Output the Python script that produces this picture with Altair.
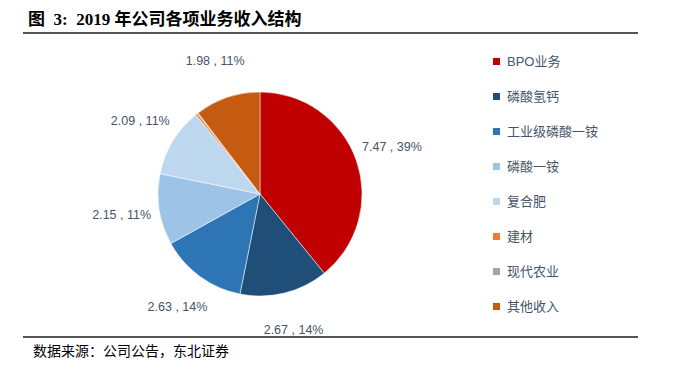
import altair as alt
import pandas as pd

categories = ["BPO业务", "磷酸氢钙", "工业级磷酸一铵", "磷酸一铵", "复合肥", "建材", "现代农业", "其他收入"]
values = [7.47, 2.67, 2.63, 2.15, 2.09, 0.06, 0.03, 1.98]
labels = ["7.47 , 39%", "2.67 , 14%", "2.63 , 14%", "2.15 , 11%", "2.09 , 11%", "", "", "1.98 , 11%"]
colors = ["#C00000", "#1F4E79", "#2E75B6", "#9DC3E6", "#BDD7EE", "#ED7D31", "#A5A5A5", "#C55A11"]

title_text = "图\u00a0\u00a03:\u00a0\u00a02019\u00a0年公司各项业务收入结构"
source_text = "数据来源：公司公告，东北证券"

df = pd.DataFrame({"cat": categories, "val": values, "label": labels,
                   "order": list(range(len(categories)))})

W, H = 661, 362
cx, cy = 252, 186

base = alt.Chart(df).encode(
    theta=alt.Theta("val:Q", stack=True),
    order=alt.Order("order:Q"),
)

pie = base.mark_arc(outerRadius=102, stroke="white", strokeWidth=0.5).encode(
    x=alt.value(cx), y=alt.value(cy),
    color=alt.Color("cat:N", sort=categories,
                    scale=alt.Scale(domain=categories, range=colors),
                    legend=alt.Legend(title=None, orient="none", legendX=482, legendY=47,
                                      symbolType="square", symbolSize=50,
                                      labelFont="Liberation Sans, Noto Sans CJK SC",
                                      labelFontSize=13, labelColor="#44546A",
                                      rowPadding=21, symbolStrokeWidth=0)),
)

text = base.mark_text(radius=140, fontSize=12.5, font="Liberation Sans",
                      color="#44546A").encode(
    x=alt.value(cx), y=alt.value(cy),
    text="label:N",
)

title_df = pd.DataFrame({"t": [title_text]})
title = alt.Chart(title_df).mark_text(align="left", baseline="middle", fontSize=17,
                                      fontWeight="bold",
                                      font="Liberation Serif, Noto Sans CJK SC",
                                      color="#000000").encode(
    x=alt.value(20), y=alt.value(12), text="t:N")

src_df = pd.DataFrame({"t": [source_text]})
src = alt.Chart(src_df).mark_text(align="left", baseline="middle", fontSize=14,
                                  font="Noto Sans CJK SC", color="#000000").encode(
    x=alt.value(25), y=alt.value(344), text="t:N")

line_top = alt.Chart(title_df).mark_rule(color="#555555", strokeWidth=2).encode(
    x=alt.value(15), x2=alt.value(630), y=alt.value(25))
line_bot = alt.Chart(title_df).mark_rule(color="#555555", strokeWidth=2).encode(
    x=alt.value(15), x2=alt.value(630), y=alt.value(329))

chart = alt.layer(pie, text, title, src, line_top, line_bot).properties(
    width=W, height=H, padding=0, autosize=alt.AutoSizeParams(type="none")
).configure_view(stroke=None)

chart.save("out.html", embed_options={"renderer": "svg", "actions": False})
